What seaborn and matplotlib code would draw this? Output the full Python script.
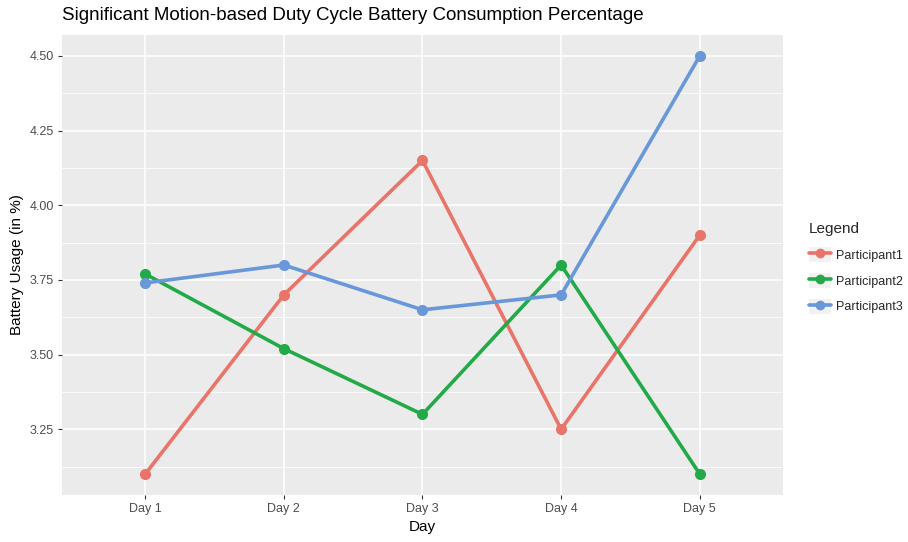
import pandas as pd
import matplotlib
matplotlib.use("Agg")
import matplotlib.pyplot as plt
from matplotlib.lines import Line2D
from matplotlib.patches import Rectangle
from matplotlib.legend_handler import HandlerTuple
from matplotlib.ticker import MultipleLocator
import seaborn as sns

# --- Data ---
days = ["Day 1", "Day 2", "Day 3", "Day 4", "Day 5"]
participant1 = [3.10, 3.70, 4.15, 3.25, 3.90]
participant2 = [3.77, 3.52, 3.30, 3.80, 3.10]
participant3 = [3.74, 3.80, 3.65, 3.70, 4.50]
participants = ["Participant1", "Participant2", "Participant3"]
colors = ["#E8746A", "#23AA48", "#6897DA"]

df = pd.DataFrame({
    "Day": days * 3,
    "Usage": participant1 + participant2 + participant3,
    "Legend": [p for p in participants for _ in days],
})
df["x"] = df["Day"].map({d: i for i, d in enumerate(days)})

# --- Style (ggplot-like) ---
sns.set_style("darkgrid", {"axes.facecolor": "#EBEBEB", "grid.color": "white"})
plt.rcParams["font.family"] = ["Liberation Sans", "DejaVu Sans"]

fig = plt.figure(figsize=(9.08, 5.42), dpi=100)
ax = fig.add_axes([0.0683, 0.0867, 0.794, 0.8487])

sns.lineplot(data=df, x="x", y="Usage", hue="Legend", palette=colors,
             linewidth=2.6, marker="o", markersize=8, markeredgewidth=0,
             legend=False, ax=ax)

ax.set_xlim(-0.6, 4.6)
ax.set_ylim(3.03, 4.57)
ax.set_xticks(range(len(days)))
ax.set_xticklabels(days)
ax.yaxis.set_major_locator(MultipleLocator(0.25))
ax.yaxis.set_minor_locator(MultipleLocator(0.125))
ax.yaxis.set_major_formatter(matplotlib.ticker.FormatStrFormatter("%.2f"))
ax.grid(which="major", color="white", linewidth=1.1)
ax.grid(which="minor", axis="y", color="white", linewidth=0.55)
ax.tick_params(axis="both", which="major", length=3, width=0.8, color="#333333",
               labelsize=9, labelcolor="#4D4D4D", pad=3, bottom=True, left=True)
ax.tick_params(axis="y", which="minor", length=0)
for s in ax.spines.values():
    s.set_visible(False)

ax.set_xlabel("Day", fontsize=11, color="black", labelpad=3)
ax.set_ylabel("Battery Usage (in %)", fontsize=11, color="black", labelpad=4)
fig.text(0.0683, 0.955, "Significant Motion-based Duty Cycle Battery Consumption Percentage",
         fontsize=13.5, color="black", ha="left", va="bottom")

# legend keys: grey square behind a line + point, like ggplot
handles = [(Rectangle((0, 0), 1, 1, facecolor="#F2F2F2", edgecolor="none"),
            Line2D([0], [0], color=c, linewidth=2.6, marker="o", markersize=7,
                   markeredgewidth=0)) for c in colors]
leg = fig.legend(handles, participants, title="Legend", loc="upper left",
                 bbox_to_anchor=(0.881, 0.606), frameon=False, fontsize=9,
                 title_fontsize=11, handlelength=1.8, handleheight=1.5,
                 handletextpad=0.35, labelspacing=0.85, borderaxespad=0.3,
                 handler_map={tuple: HandlerTuple(ndivide=1, pad=0)})
leg._legend_box.align = "left"

fig.savefig("out.png", dpi=100)
